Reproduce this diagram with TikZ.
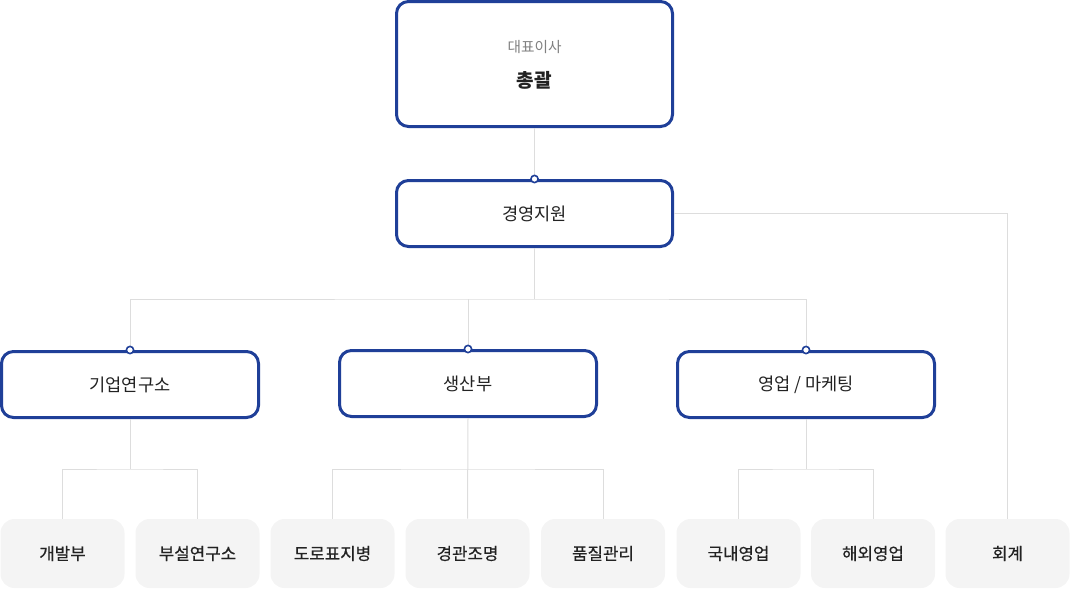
\documentclass[tikz,border=0pt]{standalone}
\usepackage{fontspec}
\setmainfont{Noto Sans CJK KR}
\newfontfamily\leaffont[FakeBold=0.5]{Noto Sans CJK KR}
\definecolor{orgblue}{HTML}{1F3F98}
\definecolor{linegray}{HTML}{DDDDDD}
\definecolor{leafgray}{HTML}{F4F4F4}
\definecolor{inkgray}{HTML}{222222}
\tikzset{
  unitbox/.style={draw=orgblue, line width=2.25pt, fill=white, rounded corners=9pt,
    minimum width=0.75*276pt, minimum height=0.75*66pt, font=\fontsize{13.2}{15}\selectfont, text=inkgray},
  deptbox/.style={unitbox, minimum width=0.75*257pt},
  leafbox/.style={fill=leafgray, rounded corners=10.5pt, minimum width=0.75*124pt,
    minimum height=0.75*69pt, font=\leaffont\fontsize{12.6}{14}\selectfont, text=inkgray},
  conn/.style={draw=linegray, line width=0.75pt},
  dot/.style={circle, draw=orgblue, fill=white, line width=1.2pt, inner sep=0pt, minimum size=5.4pt}
}
\begin{document}
\begin{tikzpicture}[x=0.75pt, y=-0.75pt]
\useasboundingbox (0,0) rectangle (1070,589);
% top
\node[unitbox, minimum height=0.75*125pt] (ceo) at (534.5,64) {};
\node[font=\fontsize{11}{13}\selectfont, text=gray] (ceotitle) at (534.5,47) {대표이사};
\node[font=\fontsize{14.3}{16}\selectfont\bfseries, text=inkgray] (ceoname) at (534.5,80) {총괄};
\node[unitbox] (mgmt) at (534.5,213.5) {경영지원};
% departments
\node[deptbox] (lab) at (130,384.5) {기업연구소};
\node[deptbox] (prod) at (468,383.5) {생산부};
\node[deptbox] (sales) at (806,384.5) {영업 / 마케팅};
% teams
\node[leafbox] (dev) at (62.5,553.5) {개발부};
\node[leafbox] (res) at (197.5,553.5) {부설연구소};
\node[leafbox] (road) at (332.5,553.5) {도로표지병};
\node[leafbox] (light) at (467.5,553.5) {경관조명};
\node[leafbox] (qa) at (603,553.5) {품질관리};
\node[leafbox] (dom) at (738.5,553.5) {국내영업};
\node[leafbox] (intl) at (873,553.5) {해외영업};
\node[leafbox] (acc) at (1007.5,553.5) {회계};
% connectors
\coordinate (bus) at (534.5,299);
\coordinate (labbus) at (130,469);
\coordinate (prodbus) at (468,469);
\coordinate (salesbus) at (806,469);
\draw[conn] (ceo.south) -- (mgmt.north);
\draw[conn] (mgmt.east) -| (acc.north);
\draw[conn] (mgmt.south) -- (bus);
\draw[conn] (lab.north) |- (bus) -| (sales.north);
\draw[conn] (prod.north) -- (prod.north |- bus);
\draw[conn] (lab.south) -- (labbus);
\draw[conn] (dev.north) |- (labbus) -| (res.north);
\draw[conn] (prod.south) -- (light.north);
\draw[conn] (road.north) |- (prodbus) -| (qa.north);
\draw[conn] (sales.south) -- (salesbus);
\draw[conn] (dom.north) |- (salesbus) -| (intl.north);
\foreach \n in {mgmt,lab,prod,sales}
  \node[dot] at (\n.north) {};
\end{tikzpicture}
\end{document}
